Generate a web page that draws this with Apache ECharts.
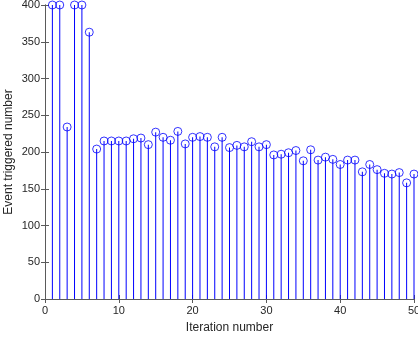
<!DOCTYPE html>
<html>
<head>
<meta charset="utf-8">
<script src="https://cdn.jsdelivr.net/npm/echarts@6/dist/echarts.min.js"></script>
<style>
  html, body { margin: 0; padding: 0; background: #fff; }
  #main { width: 418px; height: 339px; }
</style>
</head>
<body>
<div id="main"></div>
<script>
// iteration index
var iters = [1, 2, 3, 4, 5, 6, 7, 8, 9, 10,
    11, 12, 13, 14, 15, 16, 17, 18, 19, 20,
    21, 22, 23, 24, 25, 26, 27, 28, 29, 30,
    31, 32, 33, 34, 35, 36, 37, 38, 39, 40,
    41, 42, 43, 44, 45, 46, 47, 48, 49, 50];
// event triggered number
var events = [400, 400, 234, 400, 400, 363, 204, 215, 215, 215,
    215, 218, 219, 210, 227, 220, 216, 228, 211, 220,
    221, 220, 207, 220, 206, 209, 207, 214, 207, 210,
    196, 197, 199, 202, 188, 203, 189, 193, 190, 183,
    189, 189, 173, 183, 176, 171, 170, 172, 158, 170];
var xTicks = [0, 10, 20, 30, 40, 50];
var yTicks = [0, 50, 100, 150, 200, 250, 300, 350, 400];

var axisCol = '#5a5a5a';
var textCol = '#262626';
var stemCol = '#0000ff';

var pts = [];
for (var i = 0; i < iters.length; i++) {
    pts.push([iters[i], events[i]]);
}

var myChart = echarts.init(document.getElementById('main'));
var option = {
    animation: false,
    grid: { left: 45, right: 4, top: 5, bottom: 40, containLabel: false, outerBoundsMode: 'none' },
    xAxis: [{
        type: 'value',
        min: xTicks[0],
        max: xTicks[xTicks.length - 1],
        interval: 10,
        name: 'Iteration number',
        nameLocation: 'middle',
        nameGap: 23,
        nameMoveOverlap: false,
        nameTextStyle: { color: textCol, fontSize: 12, fontFamily: 'Liberation Sans' },
        axisLine: { show: true, lineStyle: { color: axisCol, width: 1 } },
        axisTick: { show: true, inside: true, length: 4, lineStyle: { color: axisCol } },
        axisLabel: { color: textCol, fontSize: 11, fontFamily: 'Liberation Sans', margin: 6 },
        splitLine: { show: false }
    }, {
        type: 'value',
        position: 'top',
        min: xTicks[0],
        max: xTicks[xTicks.length - 1],
        interval: 10,
        axisLine: { show: true, lineStyle: { color: axisCol, width: 1 } },
        axisTick: { show: true, inside: true, length: 4, lineStyle: { color: axisCol } },
        axisLabel: { show: false },
        splitLine: { show: false }
    }],
    yAxis: [{
        type: 'value',
        min: yTicks[0],
        max: yTicks[yTicks.length - 1],
        interval: 50,
        name: 'Event triggered number',
        nameLocation: 'middle',
        nameGap: 30,
        nameMoveOverlap: false,
        nameTextStyle: { color: textCol, fontSize: 12, fontFamily: 'Liberation Sans' },
        axisLine: { show: true, lineStyle: { color: axisCol, width: 1 } },
        axisTick: { show: true, inside: true, length: 4, lineStyle: { color: axisCol } },
        axisLabel: { color: textCol, fontSize: 11, fontFamily: 'Liberation Sans', margin: 5 },
        splitLine: { show: false }
    }, {
        type: 'value',
        position: 'right',
        min: yTicks[0],
        max: yTicks[yTicks.length - 1],
        interval: 50,
        axisLine: { show: true, lineStyle: { color: axisCol, width: 1 } },
        axisTick: { show: true, inside: true, length: 4, lineStyle: { color: axisCol } },
        axisLabel: { show: false },
        splitLine: { show: false }
    }],
    series: [{
        // stems
        type: 'bar',
        data: pts,
        barWidth: 1,
        itemStyle: { color: stemCol },
        silent: true
    }, {
        // markers on top of stems
        type: 'scatter',
        data: pts,
        symbol: 'circle',
        symbolSize: 8,
        clip: false,
        itemStyle: { color: 'rgba(0,0,0,0)', borderColor: stemCol, borderWidth: 1 },
        z: 3
    }]
};
myChart.setOption(option);
</script>
</body>
</html>
